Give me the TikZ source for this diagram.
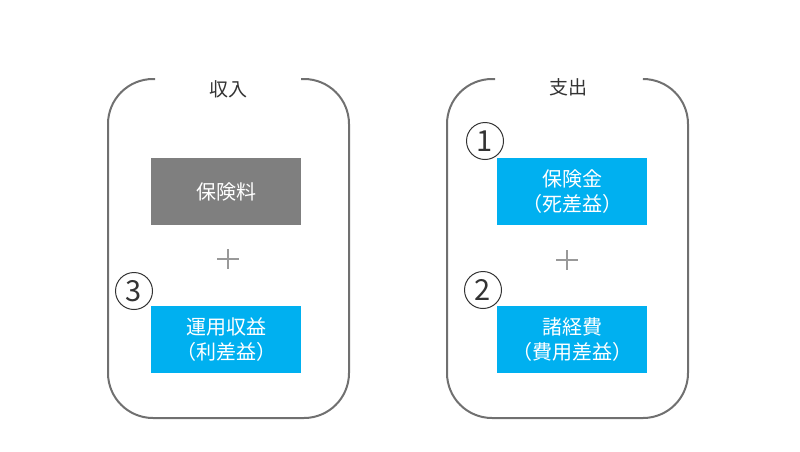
\documentclass[tikz,border=0pt]{standalone}
\usepackage{fontspec}
\setmainfont{Noto Sans CJK JP}
\usetikzlibrary{positioning}
\definecolor{premgray}{HTML}{7F7F7F}
\definecolor{itemblue}{HTML}{00B0F0}
\definecolor{framegray}{HTML}{707070}

\begin{document}
\begin{tikzpicture}[x=1pt,y=-1pt,
 frame/.style={draw=framegray,line width=2pt,rounded corners=45pt},
 itembox/.style={minimum width=150pt,minimum height=67pt,align=center,text=white,inner sep=0pt,
  font=\fontsize{20}{25}\selectfont},
 heading/.style={text=black!80,font=\fontsize{19}{22}\selectfont},
 numcirc/.style={circle,draw=black!80,line width=1pt,minimum size=37pt,inner sep=0pt,
  text=black!80,font=\fontsize{29}{29}\selectfont},
 plusmark/.style={draw=black!40,line width=1.3pt}]
\useasboundingbox (0,0) rectangle (800,451);
% income side
\draw[frame] (155,79) -- (108,79) -- (108,418) -- (349,418) -- (349,79) -- (301,79);
\node[heading] (income) at (228,89) {収入};
\node[itembox,fill=premgray] (premium) at (226,191.5) {保険料};
\node[itembox,fill=itemblue] (invest) at (226,339.5) {運用収益\\（利差益）};
\coordinate (plusL) at (228,259);
\draw[plusmark] (plusL) ++(-11,0) -- ++(22,0) (plusL) ++(0,-10) -- ++(0,20);
\node[numcirc] (n3) at (134,291) {3};
% outgo side
\draw[frame] (495,79) -- (447,79) -- (447,418) -- (688,418) -- (688,79) -- (645,79);
\node[heading] (outgo) at (568,87) {支出};
\node[itembox,fill=itemblue] (claims) at (572,191.5) {保険金\\（死差益）};
\node[itembox,fill=itemblue] (expense) at (572,339.5) {諸経費\\（費用差益）};
\coordinate (plusR) at (567,260);
\draw[plusmark] (plusR) ++(-11,0) -- ++(22,0) (plusR) ++(0,-10) -- ++(0,20);
\node[numcirc] (n1) at (485,141) {1};
\node[numcirc] (n2) at (483,290) {2};
\end{tikzpicture}
\end{document}
